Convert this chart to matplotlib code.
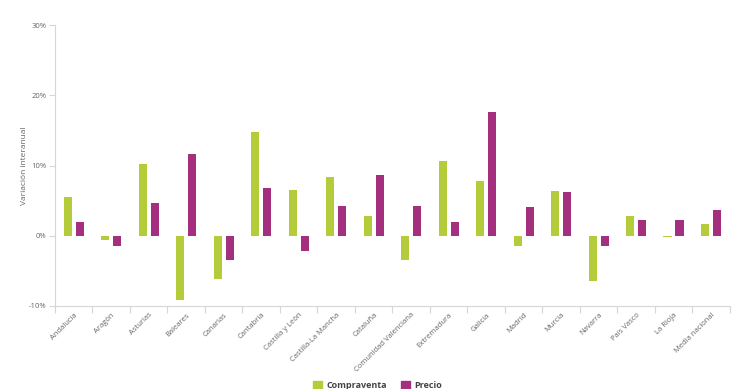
import matplotlib.pyplot as plt
import numpy as np
from matplotlib.patches import Patch
from matplotlib.ticker import FuncFormatter

plt.rcParams["font.family"] = ["Open Sans", "DejaVu Sans"]

regions = [
    "Andalucía", "Aragón", "Asturias", "Baleares", "Canarias", "Cantabria",
    "Castilla y León", "Castilla-La Mancha", "Cataluña", "Comunidad Valenciana",
    "Extremadura", "Galicia", "Madrid", "Murcia", "Navarra", "País Vasco",
    "La Rioja", "Media nacional",
]
compraventa = [5.5, -0.6, 10.2, -9.2, -6.2, 14.8, 6.5, 8.4, 2.8, -3.5,
               10.7, 7.8, -1.5, 6.4, -6.5, 2.8, -0.2, 1.7]
precio = [2.0, -1.5, 4.7, 11.7, -3.5, 6.8, -2.2, 4.3, 8.7, 4.3,
          2.0, 17.6, 4.1, 6.2, -1.4, 2.3, 2.2, 3.6]
y_ticks = [-10, 0, 10, 20, 30]

GREEN = "#b5cc3a"
PURPLE = "#a52f7f"
AXIS = "#d6d6d6"
TEXT = "#666666"

fig = plt.figure(figsize=(7.4, 3.89), dpi=100)
ax = fig.add_axes([0.0743, 0.2134, 0.912, 0.7223])

x = np.arange(len(regions))
w = 0.22
ax.bar(x - 0.16, compraventa, width=w, color=GREEN, zorder=2)
ax.bar(x + 0.16, precio, width=w, color=PURPLE, zorder=2)

ax.set_xlim(-0.5, len(regions) - 0.5)
ax.set_ylim(-10, 30)
ax.set_yticks(y_ticks)
ax.yaxis.set_major_formatter(FuncFormatter(lambda v, _: f"{v:.0f}%"))

# boundaries get the tick marks, centres get the labels
ax.set_xticks(np.arange(len(regions) + 1) - 0.5)
ax.set_xticklabels([])
ax.set_xticks(x, minor=True)
ax.set_xticklabels(regions, minor=True, rotation=45, ha="right",
                   rotation_mode="anchor", fontsize=5.5, color=TEXT)
ax.tick_params(axis="x", which="minor", length=0, pad=4)
ax.tick_params(axis="x", which="major", length=5, color=AXIS, width=0.8)
ax.tick_params(axis="y", length=4, color=AXIS, width=0.8, labelsize=5.5,
               labelcolor=TEXT, pad=2)

for side in ["top", "right"]:
    ax.spines[side].set_visible(False)
for side in ["left", "bottom"]:
    ax.spines[side].set_color(AXIS)
    ax.spines[side].set_linewidth(0.8)

ax.set_ylabel("Variación interanual", fontsize=6, color=TEXT)
ax.yaxis.set_label_coords(-0.04, 0.5)

handles = [Patch(color=GREEN, label="Compraventa"),
           Patch(color=PURPLE, label="Precio")]
leg = fig.legend(handles=handles, loc="center", bbox_to_anchor=(0.51, 0.01),
                 ncol=2, frameon=False, handlelength=1.0, handleheight=1.0,
                 columnspacing=1.5, handletextpad=0.5,
                 prop={"size": 6.5, "weight": "bold"})
for t in leg.get_texts():
    t.set_color("#444444")

fig.savefig("out.png", dpi=100)
